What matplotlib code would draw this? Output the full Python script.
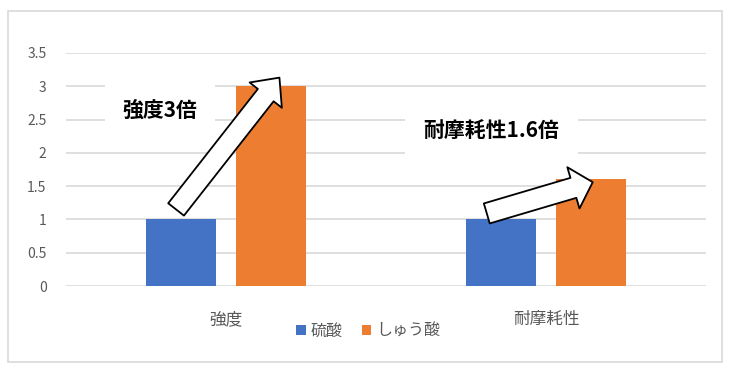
import matplotlib
matplotlib.use("Agg")
import matplotlib.pyplot as plt
from matplotlib.patches import Rectangle
import numpy as np

plt.rcParams['font.family'] = ['Noto Sans CJK JP', 'DejaVu Sans']

categories = ['強度', '耐摩耗性']
series_names = ['硫酸', 'しゅう酸']
sulfuric = [1, 1]
oxalic = [3, 1.6]
yticks = [0, 0.5, 1, 1.5, 2, 2.5, 3, 3.5]
ytick_labels = ['0', '0.5', '1', '1.5', '2', '2.5', '3', '3.5']
colors = ['#4472C4', '#ED7D31']

fig = plt.figure(figsize=(7.33, 3.69), dpi=100)
fig.patches.append(Rectangle((8/733, 1-362/369), 714/733, 351/369, transform=fig.transFigure,
                             fill=False, edgecolor='#D9D9D9', linewidth=1.2))
ax = fig.add_axes([66/733, 1-286/369, 640/733, 233/369])

x = np.arange(len(categories))
w = 0.22
off = 0.141
ax.bar(x - off, sulfuric, w, color=colors[0], label=series_names[0], zorder=2)
ax.bar(x + off, oxalic, w, color=colors[1], label=series_names[1], zorder=2)

ax.set_xlim(-0.5, 1.5)
ax.set_ylim(0, 3.5)
ax.set_yticks(yticks)
ax.set_yticklabels(ytick_labels, color='#595959', fontsize=10)
ax.set_xticks(x)
ax.set_xticklabels(categories, color='#595959', fontsize=12)
ax.tick_params(axis='both', length=0)
ax.tick_params(axis='y', pad=14)
ax.tick_params(axis='x', pad=18)
ax.yaxis.grid(True, color='#D9D9D9', linewidth=1.2, zorder=0)
ax.set_axisbelow(True)
for s in ax.spines.values():
    s.set_visible(False)

# Annotation texts with white boxes
ax.text(-0.206, 2.64, '強度3倍', fontsize=15, fontweight='bold',
        ha='center', va='center', zorder=3,
        bbox=dict(boxstyle='square,pad=0.85', fc='white', ec='none'))
ax.text(0.83, 2.32, '耐摩耗性1.6倍', fontsize=15, fontweight='bold',
        ha='center', va='center', zorder=3,
        bbox=dict(boxstyle='square,pad=0.9', fc='white', ec='none'))

# block arrows
ax.annotate('', xy=(0.167, 3.13), xytext=(-0.156, 1.15),
            arrowprops=dict(arrowstyle='simple,head_width=29.5,head_length=16,tail_width=14.4',
                            fc='white', ec='black', lw=1.3, shrinkA=0, shrinkB=0,
                            mutation_scale=1), zorder=4)
ax.annotate('', xy=(1.146, 1.56), xytext=(0.815, 1.09),
            arrowprops=dict(arrowstyle='simple,head_width=31,head_length=14.5,tail_width=15',
                            fc='white', ec='black', lw=1.3, shrinkA=0, shrinkB=0,
                            mutation_scale=1), zorder=4)

fig.legend(loc='center', bbox_to_anchor=(368/733, 1-331/369), ncol=2, frameon=False,
           fontsize=11.5, handlelength=0.6, handleheight=0.6, handletextpad=0.3,
           columnspacing=1.2, labelcolor='#595959')

fig.savefig('out.png', dpi=100)
